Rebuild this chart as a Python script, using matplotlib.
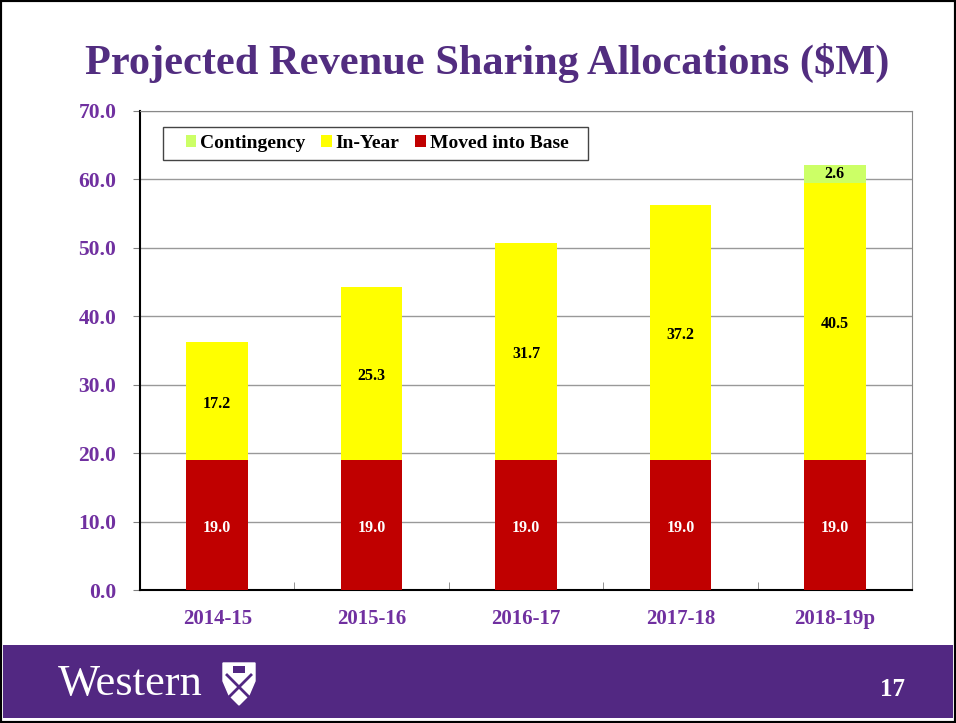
import numpy as np
import matplotlib.pyplot as plt
from matplotlib.patches import Rectangle, Polygon

years = ['2014-15', '2015-16', '2016-17', '2017-18', '2018-19p']
base = [19.0, 19.0, 19.0, 19.0, 19.0]
in_year = [17.2, 25.3, 31.7, 37.2, 40.5]
contingency = [0, 0, 0, 0, 2.6]

purple = '#522D80'
tick_purple = '#7030A0'
plt.rcParams['font.family'] = ['Liberation Serif', 'DejaVu Serif']
plt.rcParams['font.weight'] = 'bold'

fig = plt.figure(figsize=(9.56, 7.23), dpi=100)
W, H = 956, 723

# slide border and footer band
fig.patches.append(Rectangle((0, 0), 1, 1, transform=fig.transFigure, fill=False,
                             edgecolor='black', linewidth=3))
fig.patches.append(Rectangle((3 / W, 5 / H), 1 - 6 / W, (718 - 645) / H,
                             transform=fig.transFigure, facecolor='#522882',
                             edgecolor='none'))
fig.text(58 / W, 1 - 684 / H, 'Western', color='white', fontsize=32,
         fontweight='normal', va='center', ha='left')

# simple crest
sx, sy = 239 / W, 1 - 683 / H
shield = [(-16, 20), (16, 20), (16, 2), (10, -12), (0, -22), (-10, -12), (-16, 2)]
fig.patches.append(Polygon([(sx + x / W, sy + y / H) for x, y in shield],
                           closed=True, transform=fig.transFigure,
                           facecolor='white', edgecolor='white', linewidth=1))
for (x0, y0, x1, y1) in [(-12, 8, 12, -16), (12, 8, -12, -16)]:
    fig.add_artist(plt.Line2D([sx + x0 / W, sx + x1 / W], [sy + y0 / H, sy + y1 / H],
                              transform=fig.transFigure, color='#522882', linewidth=2))
fig.patches.append(Rectangle((sx - 6 / W, sy + 10 / H), 12 / W, 7 / H,
                             transform=fig.transFigure, facecolor='#522882'))

fig.text(893 / W, 1 - 690 / H, '17', color='white', fontsize=18, va='center', ha='center')

fig.text(487 / W, 1 - 63 / H, 'Projected Revenue Sharing Allocations ($M)', color=purple,
         fontsize=30.5, ha='center', va='center')

ax = fig.add_axes([140 / W, 1 - 590 / H, (912 - 140) / W, (590 - 111) / H])
x = np.arange(len(years))
w = 0.4
bottom_c = [b + i for b, i in zip(base, in_year)]
ax.bar(x, base, w, color='#C00000', label='Moved into Base', zorder=3)
ax.bar(x, in_year, w, bottom=base, color='#FFFF00', label='In-Year', zorder=3)
ax.bar(x, contingency, w, bottom=bottom_c, color='#CCFF66', label='Contingency', zorder=3)

for i in range(len(years)):
    ax.text(x[i], base[i] / 2 - 0.5, f'{base[i]:.1f}', color='white', ha='center', va='center',
            fontsize=11.5, zorder=4)
    ax.text(x[i], base[i] + in_year[i] / 2 - 0.4, f'{in_year[i]:.1f}', color='black',
            ha='center', va='center', fontsize=11.5, zorder=4)
    if contingency[i] > 0:
        ax.text(x[i], bottom_c[i] + contingency[i] / 2, f'{contingency[i]:.1f}', color='black',
                ha='center', va='center', fontsize=11.5, zorder=4)

ax.set_xlim(-0.5, len(years) - 0.5)
ax.set_ylim(0, 70)
ax.set_yticks(np.arange(0, 71, 10))
ax.set_yticklabels([f'{v:.1f}' for v in np.arange(0, 71, 10)], color=tick_purple, fontsize=15.5)
ax.set_xticks(x)
ax.set_xticklabels(years, color=tick_purple, fontsize=15)
ax.tick_params(axis='x', length=0, pad=14)
ax.set_xticks(np.arange(-0.5, len(years), 1), minor=True)
ax.tick_params(axis='x', which='minor', length=6, direction='in', color='gray')
ax.tick_params(axis='y', length=5, color='gray', pad=12)
ax.grid(axis='y', color='#999999', linewidth=1, zorder=0)
for s in ['top', 'right']:
    ax.spines[s].set_color('#888888')
for s in ['left', 'bottom']:
    ax.spines[s].set_color('black')
    ax.spines[s].set_linewidth(1.5)

# legend box drawn separately so the padding matches the slide
ax.add_patch(Rectangle((23 / 772, 430 / 479), 425 / 772, 33 / 479, transform=ax.transAxes,
                       facecolor='white', edgecolor='#444444', linewidth=1, zorder=5))
h, l = ax.get_legend_handles_labels()
leg = ax.legend(h[::-1], l[::-1], loc='center', bbox_to_anchor=(0.307, 0.932), ncol=3,
                fontsize=14, frameon=False, handlelength=0.55, handleheight=0.55,
                handletextpad=0.2, columnspacing=0.8, borderpad=0, borderaxespad=0)
leg.set_zorder(6)

fig.savefig('out.png', dpi=100)
